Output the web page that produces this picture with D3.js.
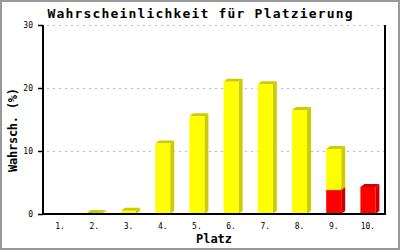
<!DOCTYPE html>
<html><head><meta charset="utf-8">
<script src="https://cdn.jsdelivr.net/npm/d3@7"></script>
<style>body{margin:0;background:#fff}svg{display:block}</style>
</head><body>
<script>
const categories = ["1.","2.","3.","4.","5.","6.","7.","8.","9.","10."];
const redValues = [0,0,0,0,0,0,0,0,3.8,4.3];
const yellowValues = [0,0.15,0.5,11.2,15.5,21.0,20.6,16.5,6.5,0];
const yTicks = [0,10,20,30];
const title = "Wahrscheinlichkeit für Platzierung";
const yTitle = "Wahrsch. (%)";
const xTitle = "Platz";

const W = 400, H = 250;
const L = 43, R = 385, T = 25, B = 214;
const depthX = 4, depthY = 3;
const mono = "'DejaVu Sans Mono', monospace";

const svg = d3.select("body").append("svg").attr("width", W).attr("height", H);
svg.append("rect").attr("x",1).attr("y",1).attr("width",W-2).attr("height",H-2)
  .attr("fill","#fff").attr("stroke","#999").attr("stroke-width",2);

const x = d3.scaleBand().domain(categories).range([L, R]).padding(0);
const y = d3.scaleLinear().domain([0, 30]).range([B, T]);
const barW = 15;

// grid
svg.append("g").selectAll("line").data(yTicks.filter(d => d > 0)).join("line")
  .attr("x1", L + 4).attr("x2", R).attr("y1", d => y(d) + 0.5).attr("y2", d => y(d) + 0.5)
  .attr("stroke", "#bbb").attr("stroke-width", 1).attr("stroke-dasharray", "2,4");

// stacked segments
const series = [
  { vals: redValues, front: "#ff0000", side: "#cc0000" },
  { vals: yellowValues, front: "#ffff00", side: "#cccc00" }
];
const segs = [];
categories.forEach((c, i) => {
  let base = 0;
  series.forEach(s => {
    const v = s.vals[i];
    if (v > 0) segs.push({ c, y0: base, y1: base + v, front: s.front, side: s.side });
    base += v;
  });
});
const g = svg.append("g");
segs.forEach(s => {
  const x0 = x(s.c) + x.bandwidth() / 2 - barW / 2;
  const x1 = x0 + barW;
  const yt = y(s.y1), yb = y(s.y0);
  g.append("path").attr("fill", s.side)
    .attr("d", `M${x1},${yb} L${x1 + depthX},${yb - depthY} L${x1 + depthX},${yt - depthY} L${x1},${yt} Z`);
  g.append("path").attr("fill", s.side)
    .attr("d", `M${x0},${yt} L${x0 + depthX},${yt - depthY} L${x1 + depthX},${yt - depthY} L${x1},${yt} Z`);
  g.append("rect").attr("x", x0).attr("y", yt).attr("width", barW).attr("height", Math.max(0, yb - yt))
    .attr("fill", s.front);
});

// axes
const yAxis = svg.append("g").attr("transform", `translate(${L},0)`)
  .call(d3.axisLeft(y).tickValues(yTicks).tickSize(5).tickPadding(5));
yAxis.select(".domain").remove();
yAxis.selectAll(".tick line").attr("stroke", "#000").attr("stroke-width", 1.5);
yAxis.selectAll(".tick text").attr("font-family", mono).attr("font-size", 8).attr("fill", "#000");

const xAxis = svg.append("g").attr("transform", `translate(0,${B})`)
  .call(d3.axisBottom(x).tickSize(0).tickPadding(9));
xAxis.select(".domain").remove();
xAxis.selectAll(".tick text").attr("font-family", mono).attr("font-size", 8).attr("fill", "#000");

svg.append("line").attr("x1", L).attr("x2", L).attr("y1", T).attr("y2", B + 1).attr("stroke", "#000").attr("stroke-width", 2);
svg.append("line").attr("x1", R).attr("x2", R).attr("y1", T).attr("y2", B + 1).attr("stroke", "#000").attr("stroke-width", 2);
svg.append("line").attr("x1", L).attr("x2", R).attr("y1", B).attr("y2", B).attr("stroke", "#000").attr("stroke-width", 2);

// titles
svg.append("text").attr("x", 200).attr("y", 18).attr("text-anchor", "middle")
  .attr("font-family", mono).attr("font-weight", "bold").attr("font-size", 13)
  .attr("textLength", 305).attr("lengthAdjust", "spacing").text(title);
svg.append("text").attr("transform", "translate(17,130) rotate(-90)").attr("text-anchor", "middle")
  .attr("font-family", mono).attr("font-weight", "bold").attr("font-size", 12)
  .attr("textLength", 84).attr("lengthAdjust", "spacing").text(yTitle);
svg.append("text").attr("x", 214).attr("y", 243).attr("text-anchor", "middle")
  .attr("font-family", mono).attr("font-weight", "bold").attr("font-size", 12)
  .attr("textLength", 36).attr("lengthAdjust", "spacing").text(xTitle);
</script>
</body></html>
